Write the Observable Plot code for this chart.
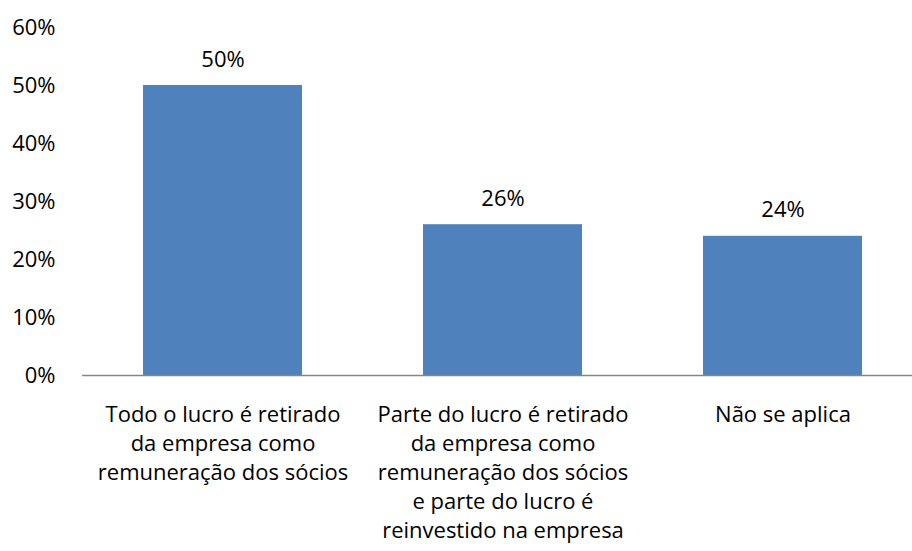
<!DOCTYPE html>
<html>
<head>
<meta charset="utf-8">
<script src="https://cdn.jsdelivr.net/npm/d3@7"></script>
<script src="https://cdn.jsdelivr.net/npm/@observablehq/plot@0.6"></script>
<style>
  html, body { margin: 0; padding: 0; background: #fff; overflow: hidden; }
  #chart svg { display: block; }
</style>
</head>
<body>
<div id="chart"></div>
<script>
const categories = [
  "Todo o lucro é retirado\nda empresa como\nremuneração dos sócios",
  "Parte do lucro é retirado\nda empresa como\nremuneração dos sócios\ne parte do lucro é\nreinvestido na empresa",
  "Não se aplica"
];
const values = [0.50, 0.26, 0.24];
const yTicks = [0, 0.1, 0.2, 0.3, 0.4, 0.5, 0.6];

const data = categories.map((c, i) => ({category: c, value: values[i]}));
const pct = d3.format(".0%");
const font = "'Open Sans', sans-serif";
const fs = 22;

const chart = Plot.plot({
  width: 912,
  height: 551,
  marginTop: 27,
  marginBottom: 176,
  marginLeft: 82,
  marginRight: 0,
  style: {fontFamily: font, fontSize: fs + "px", color: "#000", background: "#fff", overflow: "visible"},
  x: {domain: categories, range: [82, 923.5], paddingInner: 0.433, paddingOuter: 0.216},
  y: {domain: [0, 0.6]},
  marks: [
    Plot.barY(data, {x: "category", y: "value", fill: "#4F81BD"}),
    Plot.ruleY([0], {stroke: "#868686", strokeWidth: 1.5}),
    Plot.text(data, {x: "category", y: "value", text: d => pct(d.value), dy: -26, lineAnchor: "middle", fontSize: fs, fill: "#000"}),
    Plot.axisY(yTicks, {tickSize: 0, tickPadding: 27, tickFormat: pct, fontSize: fs, fill: "#000", label: null}),
    Plot.axisX({tickSize: 0, tickPadding: 26.4, fontSize: fs, fill: "#000", lineHeight: 1.318, label: null, textOverflow: null, lineWidth: Infinity})
  ]
});
document.getElementById("chart").appendChild(chart);
</script>
</body>
</html>
